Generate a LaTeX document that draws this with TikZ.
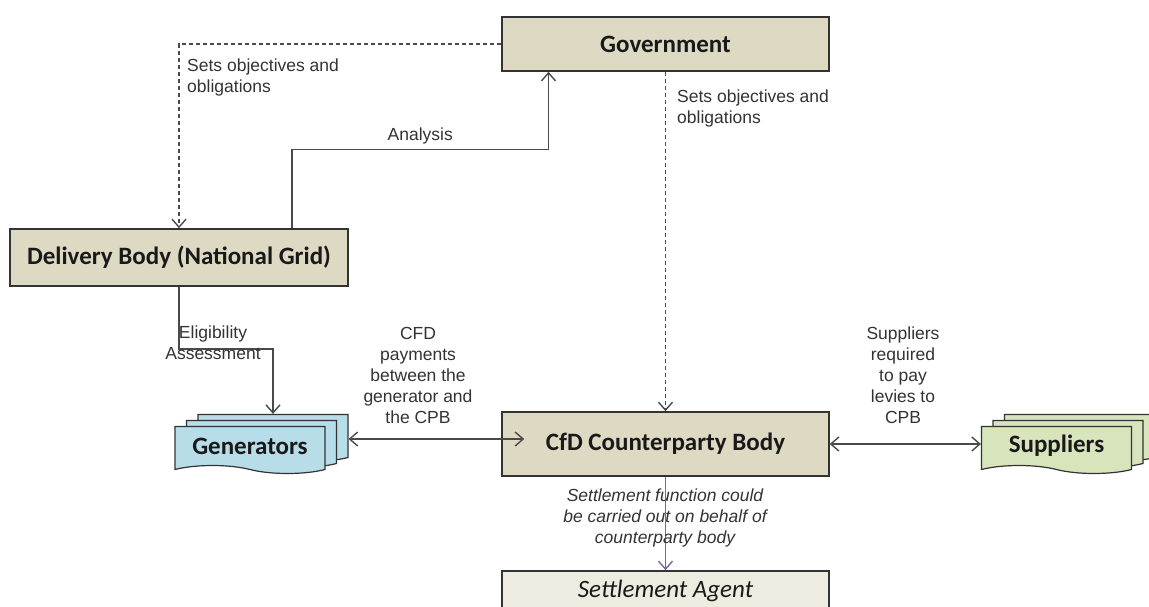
\documentclass[tikz,border=0pt]{standalone}
\usepackage{fontspec}
\setmainfont{Liberation Sans}
\newfontfamily\boxfont{Carlito}
\usetikzlibrary{arrows.meta,shapes.symbols,shadows}

\definecolor{boxtan}{HTML}{DDD9C3}
\definecolor{genblue}{HTML}{B7DDE8}
\definecolor{supgreen}{HTML}{D7E4BC}
\definecolor{agentfill}{HTML}{EEECE1}
\definecolor{linegray}{HTML}{4A4A4A}
\definecolor{txtgray}{HTML}{333333}
\definecolor{settlepurple}{HTML}{8064A2}

\begin{document}
\begin{tikzpicture}[x=1pt,y=-1pt,
    bodybox/.style={draw=black!80, line width=1.6pt, fill=boxtan, text=black!90,
        font=\boxfont\bfseries\fontsize{25}{30}\selectfont, inner sep=0pt},
    docstack/.style={tape, tape bend top=none, tape bend bottom=out and in,
        tape bend height=8pt, draw=black!80, line width=1.2pt, text=black!90,
        minimum width=150pt, minimum height=47pt, inner sep=0pt,
        font=\boxfont\bfseries\fontsize{25}{30}\selectfont,
        double copy shadow={shadow xshift=11.5pt, shadow yshift=6pt}},
    conn/.style={draw=linegray, line width=1.4pt},
    dashline/.style={dash pattern=on 4pt off 3pt},
    arrowend/.style={-{Straight Barb[length=8pt,width=14pt]}},
    arrowboth/.style={{Straight Barb[length=8pt,width=14pt]}-{Straight Barb[length=8pt,width=14pt]}},
    lbl/.style={text=txtgray, font=\fontsize{17.5}{21}\selectfont, align=center, inner sep=0pt}
]
        \useasboundingbox (0,0) rectangle (1149,606);
        \clip (0,0) rectangle (1149,606);

        % === BODIES ===
        \node[bodybox, minimum width=327pt, minimum height=54pt] (gov) at (665.5,44) {Government};
        \node[bodybox, minimum width=338pt, minimum height=57pt] (delivery) at (179,257.5) {Delivery Body (National Grid)};
        \node[bodybox, minimum width=327pt, minimum height=64pt] (cfd) at (665.5,444) {CfD Counterparty Body};
        \node[bodybox, fill=agentfill, font=\boxfont\itshape\fontsize{25}{30}\selectfont,
            minimum width=327pt, minimum height=40pt] (agent) at (665.5,591) {Settlement Agent};

        % === GENERATORS AND SUPPLIERS ===
        \node[docstack, fill=genblue] (gen) at (250,446) {Generators};
        \node[docstack, fill=supgreen] (sup) at (1056.5,446) {Suppliers};

        % === OBJECTIVES ===
        \draw[conn, dashline, arrowend] (gov.west) -| (delivery.north);
        \node[lbl, align=left, anchor=west] (setsA) at (187,77) {Sets objectives and\\obligations};
        \draw[conn, dashline, arrowend] (gov.south) -- (cfd.north);
        \node[lbl, align=left, anchor=west] (setsB) at (677,108) {Sets objectives and\\obligations};

        % === ANALYSIS ===
        \draw[conn, arrowend] ([xshift=113pt]delivery.north) -- ++(0,-79)
            -| ([xshift=-117pt]gov.south) node[lbl, pos=0.25, above=4pt] (analysis) {Analysis};

        % === ELIGIBILITY ===
        \draw[conn, arrowend] (delivery.south) -- ++(0,62) -| ([xshift=23pt,yshift=12pt]gen.north);
        \node[lbl] (elig) at (213,343) {Eligibility\\Assessment};

        % === PAYMENTS AND LEVIES ===
        \draw[conn, arrowboth] ([xshift=23pt,yshift=7pt]gen.east) -- ([xshift=23pt,yshift=7pt]gen.east -| cfd.west);
        \node[lbl] (cfdpay) at (418,375) {CFD\\payments\\between the\\generator and\\the CPB};
        \draw[conn, arrowboth] (cfd.east) -- (cfd.east -| sup.west);
        \node[lbl] (levies) at (903,375) {Suppliers\\required\\to pay\\levies to\\CPB};

        % === SETTLEMENT ===
        \draw[conn, draw=settlepurple, arrowend] (cfd.south) -- (agent.north);
        \node[lbl, font=\itshape\fontsize{17.5}{21}\selectfont] (settle) at (665,518)
            {Settlement function could\\be carried out on behalf of\\counterparty body};

    \end{tikzpicture}
\end{document}
